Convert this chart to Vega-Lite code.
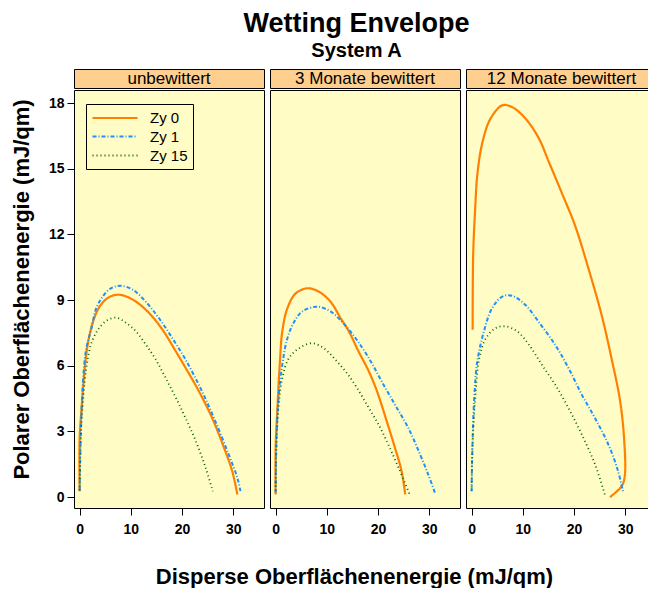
{
  "$schema": "https://vega.github.io/schema/vega-lite/v6.json",
  "background": "white",
  "padding": {"left": 9, "top": 9, "right": 0, "bottom": 0},
  "title": {
    "text": "Wetting Envelope",
    "subtitle": "System A",
    "font": "Liberation Sans",
    "fontSize": 27,
    "fontWeight": "bold",
    "color": "black",
    "subtitleFont": "Liberation Sans",
    "subtitleFontSize": 20,
    "subtitleFontWeight": "bold",
    "subtitleColor": "black",
    "subtitlePadding": 3,
    "anchor": "middle",
    "dx": 27,
    "offset": 7
  },
  "datasets": {
    "curves": [
      {"panel": "unbewittert", "series": "Zy 0", "order": 1, "x": 0, "y": 0.27},
      {"panel": "unbewittert", "series": "Zy 0", "order": 2, "x": 0, "y": 2.7},
      {"panel": "unbewittert", "series": "Zy 0", "order": 3, "x": 0.5, "y": 4.4},
      {"panel": "unbewittert", "series": "Zy 0", "order": 4, "x": 1.0, "y": 5.9},
      {"panel": "unbewittert", "series": "Zy 0", "order": 5, "x": 1.6, "y": 7.0},
      {"panel": "unbewittert", "series": "Zy 0", "order": 6, "x": 2.6, "y": 8.0},
      {"panel": "unbewittert", "series": "Zy 0", "order": 7, "x": 3.9, "y": 8.7},
      {"panel": "unbewittert", "series": "Zy 0", "order": 8, "x": 5.5, "y": 9.1},
      {"panel": "unbewittert", "series": "Zy 0", "order": 9, "x": 7.1, "y": 9.24},
      {"panel": "unbewittert", "series": "Zy 0", "order": 10, "x": 8.7, "y": 9.2},
      {"panel": "unbewittert", "series": "Zy 0", "order": 11, "x": 11.0, "y": 8.93},
      {"panel": "unbewittert", "series": "Zy 0", "order": 12, "x": 13.6, "y": 8.4},
      {"panel": "unbewittert", "series": "Zy 0", "order": 13, "x": 16.2, "y": 7.64},
      {"panel": "unbewittert", "series": "Zy 0", "order": 14, "x": 18.8, "y": 6.65},
      {"panel": "unbewittert", "series": "Zy 0", "order": 15, "x": 20.7, "y": 5.9},
      {"panel": "unbewittert", "series": "Zy 0", "order": 16, "x": 23.3, "y": 4.83},
      {"panel": "unbewittert", "series": "Zy 0", "order": 17, "x": 25.9, "y": 3.6},
      {"panel": "unbewittert", "series": "Zy 0", "order": 18, "x": 28.2, "y": 2.25},
      {"panel": "unbewittert", "series": "Zy 0", "order": 19, "x": 29.8, "y": 1.18},
      {"panel": "unbewittert", "series": "Zy 0", "order": 20, "x": 30.8, "y": 0.12},

      {"panel": "unbewittert", "series": "Zy 1", "order": 1, "x": 0, "y": 0.3},
      {"panel": "unbewittert", "series": "Zy 1", "order": 2, "x": 0.3, "y": 3.46},
      {"panel": "unbewittert", "series": "Zy 1", "order": 3, "x": 0.65, "y": 5.3},
      {"panel": "unbewittert", "series": "Zy 1", "order": 4, "x": 1.3, "y": 6.8},
      {"panel": "unbewittert", "series": "Zy 1", "order": 5, "x": 2.3, "y": 7.7},
      {"panel": "unbewittert", "series": "Zy 1", "order": 6, "x": 3.2, "y": 8.6},
      {"panel": "unbewittert", "series": "Zy 1", "order": 7, "x": 4.5, "y": 9.16},
      {"panel": "unbewittert", "series": "Zy 1", "order": 8, "x": 6.1, "y": 9.54},
      {"panel": "unbewittert", "series": "Zy 1", "order": 9, "x": 8.1, "y": 9.65},
      {"panel": "unbewittert", "series": "Zy 1", "order": 10, "x": 10.4, "y": 9.47},
      {"panel": "unbewittert", "series": "Zy 1", "order": 11, "x": 12.9, "y": 8.93},
      {"panel": "unbewittert", "series": "Zy 1", "order": 12, "x": 15.5, "y": 8.17},
      {"panel": "unbewittert", "series": "Zy 1", "order": 13, "x": 18.1, "y": 7.26},
      {"panel": "unbewittert", "series": "Zy 1", "order": 14, "x": 20.7, "y": 6.27},
      {"panel": "unbewittert", "series": "Zy 1", "order": 15, "x": 23.9, "y": 4.83},
      {"panel": "unbewittert", "series": "Zy 1", "order": 16, "x": 26.5, "y": 3.46},
      {"panel": "unbewittert", "series": "Zy 1", "order": 17, "x": 29.1, "y": 1.95},
      {"panel": "unbewittert", "series": "Zy 1", "order": 18, "x": 30.8, "y": 0.88},
      {"panel": "unbewittert", "series": "Zy 1", "order": 19, "x": 31.4, "y": 0.27},

      {"panel": "unbewittert", "series": "Zy 15", "order": 1, "x": 0, "y": 0.3},
      {"panel": "unbewittert", "series": "Zy 15", "order": 2, "x": 0.3, "y": 3.1},
      {"panel": "unbewittert", "series": "Zy 15", "order": 3, "x": 1.0, "y": 5.3},
      {"panel": "unbewittert", "series": "Zy 15", "order": 4, "x": 1.6, "y": 6.35},
      {"panel": "unbewittert", "series": "Zy 15", "order": 5, "x": 2.3, "y": 7.03},
      {"panel": "unbewittert", "series": "Zy 15", "order": 6, "x": 3.55, "y": 7.64},
      {"panel": "unbewittert", "series": "Zy 15", "order": 7, "x": 5.2, "y": 8.05},
      {"panel": "unbewittert", "series": "Zy 15", "order": 8, "x": 7.1, "y": 8.2},
      {"panel": "unbewittert", "series": "Zy 15", "order": 9, "x": 9.1, "y": 7.95},
      {"panel": "unbewittert", "series": "Zy 15", "order": 10, "x": 11.0, "y": 7.57},
      {"panel": "unbewittert", "series": "Zy 15", "order": 11, "x": 12.95, "y": 6.96},
      {"panel": "unbewittert", "series": "Zy 15", "order": 12, "x": 14.9, "y": 6.27},
      {"panel": "unbewittert", "series": "Zy 15", "order": 13, "x": 16.8, "y": 5.44},
      {"panel": "unbewittert", "series": "Zy 15", "order": 14, "x": 18.8, "y": 4.53},
      {"panel": "unbewittert", "series": "Zy 15", "order": 15, "x": 20.7, "y": 3.6},
      {"panel": "unbewittert", "series": "Zy 15", "order": 16, "x": 22.7, "y": 2.55},
      {"panel": "unbewittert", "series": "Zy 15", "order": 17, "x": 24.6, "y": 1.34},
      {"panel": "unbewittert", "series": "Zy 15", "order": 18, "x": 26.0, "y": 0.27},

      {"panel": "3 Monate bewittert", "series": "Zy 0", "order": 1, "x": 0, "y": 0.12},
      {"panel": "3 Monate bewittert", "series": "Zy 0", "order": 2, "x": 0, "y": 2.25},
      {"panel": "3 Monate bewittert", "series": "Zy 0", "order": 3, "x": 0.35, "y": 4.07},
      {"panel": "3 Monate bewittert", "series": "Zy 0", "order": 4, "x": 0.8, "y": 6.05},
      {"panel": "3 Monate bewittert", "series": "Zy 0", "order": 5, "x": 1.3, "y": 7.57},
      {"panel": "3 Monate bewittert", "series": "Zy 0", "order": 6, "x": 2.3, "y": 8.63},
      {"panel": "3 Monate bewittert", "series": "Zy 0", "order": 7, "x": 3.9, "y": 9.3},
      {"panel": "3 Monate bewittert", "series": "Zy 0", "order": 8, "x": 6.2, "y": 9.54},
      {"panel": "3 Monate bewittert", "series": "Zy 0", "order": 9, "x": 8.4, "y": 9.39},
      {"panel": "3 Monate bewittert", "series": "Zy 0", "order": 10, "x": 10.7, "y": 8.93},
      {"panel": "3 Monate bewittert", "series": "Zy 0", "order": 11, "x": 12.7, "y": 8.17},
      {"panel": "3 Monate bewittert", "series": "Zy 0", "order": 12, "x": 14.3, "y": 7.57},
      {"panel": "3 Monate bewittert", "series": "Zy 0", "order": 13, "x": 16.2, "y": 6.65},
      {"panel": "3 Monate bewittert", "series": "Zy 0", "order": 14, "x": 18.2, "y": 5.74},
      {"panel": "3 Monate bewittert", "series": "Zy 0", "order": 15, "x": 19.8, "y": 4.83},
      {"panel": "3 Monate bewittert", "series": "Zy 0", "order": 16, "x": 21.7, "y": 3.46},
      {"panel": "3 Monate bewittert", "series": "Zy 0", "order": 17, "x": 23.3, "y": 2.25},
      {"panel": "3 Monate bewittert", "series": "Zy 0", "order": 18, "x": 24.6, "y": 1.18},
      {"panel": "3 Monate bewittert", "series": "Zy 0", "order": 19, "x": 25.3, "y": 0.12},

      {"panel": "3 Monate bewittert", "series": "Zy 1", "order": 1, "x": 0, "y": 0.2},
      {"panel": "3 Monate bewittert", "series": "Zy 1", "order": 2, "x": 0.15, "y": 2.55},
      {"panel": "3 Monate bewittert", "series": "Zy 1", "order": 3, "x": 0.55, "y": 4.5},
      {"panel": "3 Monate bewittert", "series": "Zy 1", "order": 4, "x": 1.3, "y": 6.05},
      {"panel": "3 Monate bewittert", "series": "Zy 1", "order": 5, "x": 2.3, "y": 7.26},
      {"panel": "3 Monate bewittert", "series": "Zy 1", "order": 6, "x": 3.6, "y": 8.0},
      {"panel": "3 Monate bewittert", "series": "Zy 1", "order": 7, "x": 5.2, "y": 8.48},
      {"panel": "3 Monate bewittert", "series": "Zy 1", "order": 8, "x": 8.1, "y": 8.7},
      {"panel": "3 Monate bewittert", "series": "Zy 1", "order": 9, "x": 10.7, "y": 8.48},
      {"panel": "3 Monate bewittert", "series": "Zy 1", "order": 10, "x": 13.0, "y": 8.0},
      {"panel": "3 Monate bewittert", "series": "Zy 1", "order": 11, "x": 15.6, "y": 7.26},
      {"panel": "3 Monate bewittert", "series": "Zy 1", "order": 12, "x": 18.2, "y": 6.35},
      {"panel": "3 Monate bewittert", "series": "Zy 1", "order": 13, "x": 20.7, "y": 5.29},
      {"panel": "3 Monate bewittert", "series": "Zy 1", "order": 14, "x": 23.3, "y": 4.22},
      {"panel": "3 Monate bewittert", "series": "Zy 1", "order": 15, "x": 25.9, "y": 3.16},
      {"panel": "3 Monate bewittert", "series": "Zy 1", "order": 16, "x": 28.2, "y": 1.95},
      {"panel": "3 Monate bewittert", "series": "Zy 1", "order": 17, "x": 29.8, "y": 1.03},
      {"panel": "3 Monate bewittert", "series": "Zy 1", "order": 18, "x": 31.1, "y": 0.2},

      {"panel": "3 Monate bewittert", "series": "Zy 15", "order": 1, "x": 0, "y": 0.3},
      {"panel": "3 Monate bewittert", "series": "Zy 15", "order": 2, "x": 0.15, "y": 2.25},
      {"panel": "3 Monate bewittert", "series": "Zy 15", "order": 3, "x": 0.55, "y": 4.07},
      {"panel": "3 Monate bewittert", "series": "Zy 15", "order": 4, "x": 1.3, "y": 5.44},
      {"panel": "3 Monate bewittert", "series": "Zy 15", "order": 5, "x": 2.6, "y": 6.35},
      {"panel": "3 Monate bewittert", "series": "Zy 15", "order": 6, "x": 4.6, "y": 6.8},
      {"panel": "3 Monate bewittert", "series": "Zy 15", "order": 7, "x": 7.1, "y": 7.03},
      {"panel": "3 Monate bewittert", "series": "Zy 15", "order": 8, "x": 9.4, "y": 6.8},
      {"panel": "3 Monate bewittert", "series": "Zy 15", "order": 9, "x": 11.7, "y": 6.27},
      {"panel": "3 Monate bewittert", "series": "Zy 15", "order": 10, "x": 13.9, "y": 5.67},
      {"panel": "3 Monate bewittert", "series": "Zy 15", "order": 11, "x": 15.9, "y": 4.98},
      {"panel": "3 Monate bewittert", "series": "Zy 15", "order": 12, "x": 18.2, "y": 4.07},
      {"panel": "3 Monate bewittert", "series": "Zy 15", "order": 13, "x": 20.1, "y": 3.31},
      {"panel": "3 Monate bewittert", "series": "Zy 15", "order": 14, "x": 22.0, "y": 2.4},
      {"panel": "3 Monate bewittert", "series": "Zy 15", "order": 15, "x": 24.0, "y": 1.34},
      {"panel": "3 Monate bewittert", "series": "Zy 15", "order": 16, "x": 26.3, "y": 0.05},

      {"panel": "12 Monate bewittert", "series": "Zy 0", "order": 1, "x": 0.2, "y": 7.64},
      {"panel": "12 Monate bewittert", "series": "Zy 0", "order": 2, "x": 0.3, "y": 11.06},
      {"panel": "12 Monate bewittert", "series": "Zy 0", "order": 3, "x": 0.7, "y": 13.2},
      {"panel": "12 Monate bewittert", "series": "Zy 0", "order": 4, "x": 1.1, "y": 14.7},
      {"panel": "12 Monate bewittert", "series": "Zy 0", "order": 5, "x": 2.1, "y": 16.2},
      {"panel": "12 Monate bewittert", "series": "Zy 0", "order": 6, "x": 3.7, "y": 17.3},
      {"panel": "12 Monate bewittert", "series": "Zy 0", "order": 7, "x": 6.0, "y": 17.9},
      {"panel": "12 Monate bewittert", "series": "Zy 0", "order": 8, "x": 7.9, "y": 17.82},
      {"panel": "12 Monate bewittert", "series": "Zy 0", "order": 9, "x": 10.5, "y": 17.3},
      {"panel": "12 Monate bewittert", "series": "Zy 0", "order": 10, "x": 13.1, "y": 16.4},
      {"panel": "12 Monate bewittert", "series": "Zy 0", "order": 11, "x": 15.1, "y": 15.3},
      {"panel": "12 Monate bewittert", "series": "Zy 0", "order": 12, "x": 17.6, "y": 13.9},
      {"panel": "12 Monate bewittert", "series": "Zy 0", "order": 13, "x": 20.2, "y": 12.4},
      {"panel": "12 Monate bewittert", "series": "Zy 0", "order": 14, "x": 22.8, "y": 10.45},
      {"panel": "12 Monate bewittert", "series": "Zy 0", "order": 15, "x": 25.4, "y": 8.3},
      {"panel": "12 Monate bewittert", "series": "Zy 0", "order": 16, "x": 27.3, "y": 6.35},
      {"panel": "12 Monate bewittert", "series": "Zy 0", "order": 17, "x": 29.0, "y": 4.37},
      {"panel": "12 Monate bewittert", "series": "Zy 0", "order": 18, "x": 29.8, "y": 2.55},
      {"panel": "12 Monate bewittert", "series": "Zy 0", "order": 19, "x": 29.9, "y": 0.96},
      {"panel": "12 Monate bewittert", "series": "Zy 0", "order": 20, "x": 29.3, "y": 0.5},
      {"panel": "12 Monate bewittert", "series": "Zy 0", "order": 21, "x": 27.0, "y": 0.0},

      {"panel": "12 Monate bewittert", "series": "Zy 1", "order": 1, "x": 0, "y": 0.27},
      {"panel": "12 Monate bewittert", "series": "Zy 1", "order": 2, "x": 0.15, "y": 2.25},
      {"panel": "12 Monate bewittert", "series": "Zy 1", "order": 3, "x": 0.5, "y": 4.5},
      {"panel": "12 Monate bewittert", "series": "Zy 1", "order": 4, "x": 1.1, "y": 6.2},
      {"panel": "12 Monate bewittert", "series": "Zy 1", "order": 5, "x": 2.4, "y": 7.57},
      {"panel": "12 Monate bewittert", "series": "Zy 1", "order": 6, "x": 4.0, "y": 8.63},
      {"panel": "12 Monate bewittert", "series": "Zy 1", "order": 7, "x": 6.0, "y": 9.16},
      {"panel": "12 Monate bewittert", "series": "Zy 1", "order": 8, "x": 7.9, "y": 9.2},
      {"panel": "12 Monate bewittert", "series": "Zy 1", "order": 9, "x": 10.5, "y": 8.78},
      {"panel": "12 Monate bewittert", "series": "Zy 1", "order": 10, "x": 13.1, "y": 8.0},
      {"panel": "12 Monate bewittert", "series": "Zy 1", "order": 11, "x": 16.3, "y": 6.96},
      {"panel": "12 Monate bewittert", "series": "Zy 1", "order": 12, "x": 18.9, "y": 5.9},
      {"panel": "12 Monate bewittert", "series": "Zy 1", "order": 13, "x": 21.5, "y": 4.68},
      {"panel": "12 Monate bewittert", "series": "Zy 1", "order": 14, "x": 24.1, "y": 3.6},
      {"panel": "12 Monate bewittert", "series": "Zy 1", "order": 15, "x": 26.7, "y": 2.4},
      {"panel": "12 Monate bewittert", "series": "Zy 1", "order": 16, "x": 28.6, "y": 1.18},
      {"panel": "12 Monate bewittert", "series": "Zy 1", "order": 17, "x": 29.6, "y": 0.2},

      {"panel": "12 Monate bewittert", "series": "Zy 15", "order": 1, "x": 0, "y": 0.3},
      {"panel": "12 Monate bewittert", "series": "Zy 15", "order": 2, "x": 0.15, "y": 2.25},
      {"panel": "12 Monate bewittert", "series": "Zy 15", "order": 3, "x": 0.7, "y": 4.5},
      {"panel": "12 Monate bewittert", "series": "Zy 15", "order": 4, "x": 1.5, "y": 6.35},
      {"panel": "12 Monate bewittert", "series": "Zy 15", "order": 5, "x": 2.8, "y": 7.26},
      {"panel": "12 Monate bewittert", "series": "Zy 15", "order": 6, "x": 4.7, "y": 7.72},
      {"panel": "12 Monate bewittert", "series": "Zy 15", "order": 7, "x": 6.6, "y": 7.8},
      {"panel": "12 Monate bewittert", "series": "Zy 15", "order": 8, "x": 8.9, "y": 7.57},
      {"panel": "12 Monate bewittert", "series": "Zy 15", "order": 9, "x": 11.2, "y": 6.96},
      {"panel": "12 Monate bewittert", "series": "Zy 15", "order": 10, "x": 13.7, "y": 6.05},
      {"panel": "12 Monate bewittert", "series": "Zy 15", "order": 11, "x": 16.3, "y": 5.14},
      {"panel": "12 Monate bewittert", "series": "Zy 15", "order": 12, "x": 18.9, "y": 4.07},
      {"panel": "12 Monate bewittert", "series": "Zy 15", "order": 13, "x": 21.5, "y": 2.86},
      {"panel": "12 Monate bewittert", "series": "Zy 15", "order": 14, "x": 24.1, "y": 1.49},
      {"panel": "12 Monate bewittert", "series": "Zy 15", "order": 15, "x": 26.1, "y": 0.05}
    ]
  },
  "config": {
    "font": "Liberation Sans",
    "axis": {
      "domain": false,
      "grid": false,
      "ticks": true,
      "tickColor": "black",
      "tickSize": 7,
      "tickWidth": 1,
      "labelFont": "Liberation Sans",
      "labelFontSize": 14,
      "labelFontWeight": "bold",
      "labelColor": "black",
      "labelFlush": false,
      "labelOverlap": false,
      "titleFont": "Liberation Sans",
      "titleFontSize": 22,
      "titleFontWeight": "bold",
      "titleColor": "black"
    },
    "legend": {
      "strokeColor": "black",
      "padding": 5,
      "labelFont": "Liberation Sans",
      "labelFontSize": 15,
      "labelColor": "black",
      "symbolSize": 225,
      "symbolType": "M-3,0H3",
      "symbolOffset": 15,
      "labelOffset": 26,
      "rowPadding": 2
    }
  },
  "spacing": 0,
  "vconcat": [
    {
      "spacing": 6,
      "bounds": "flush",
      "hconcat": [
        {
          "width": 190, "height": 19,
          "data": {"values": [{"label": "unbewittert"}]},
          "mark": {"type": "text", "font": "Liberation Sans", "fontSize": 17, "color": "black"},
          "encoding": {"text": {"field": "label", "type": "nominal"}},
          "view": {"fill": "#FFCF8F", "stroke": "black"}
        },
        {
          "width": 190, "height": 19,
          "data": {"values": [{"label": "3 Monate bewittert"}]},
          "mark": {"type": "text", "font": "Liberation Sans", "fontSize": 17, "color": "black"},
          "encoding": {"text": {"field": "label", "type": "nominal"}},
          "view": {"fill": "#FFCF8F", "stroke": "black"}
        },
        {
          "width": 183, "height": 19,
          "data": {"values": [{"label": "12 Monate bewittert"}]},
          "mark": {"type": "text", "font": "Liberation Sans", "fontSize": 17, "color": "black", "dx": 4},
          "encoding": {"text": {"field": "label", "type": "nominal"}},
          "view": {"fill": "#FFCF8F", "stroke": "black"}
        }
      ]
    },
    {
      "spacing": 6,
      "bounds": "flush",
      "hconcat": [
        {
          "width": 190, "height": 418,
          "data": {"name": "curves"},
          "transform": [{"filter": "datum.panel === 'unbewittert'"}],
          "mark": {"type": "line", "interpolate": "catmull-rom"},
          "encoding": {
            "x": {"field": "x", "type": "quantitative", "scale": {"domain": [-1.1, 36], "nice": false, "zero": false},
                  "axis": {"values": [0, 10, 20, 30], "title": null, "labelPadding": 7}},
            "y": {"field": "y", "type": "quantitative", "scale": {"domain": [-0.5, 18.6], "nice": false, "zero": false},
                  "axis": {"values": [0, 3, 6, 9, 12, 15, 18], "labelPadding": 3,
                           "title": "Polarer Oberflächenenergie (mJ/qm)",
                           "titleX": -53, "titleY": 199, "titleAngle": 270, "titleBaseline": "middle", "titleAlign": "center"}},
            "order": {"field": "order", "type": "quantitative"},
            "color": {"field": "series", "type": "nominal",
                      "scale": {"domain": ["Zy 0", "Zy 1", "Zy 15"], "range": ["#FF8000", "#1E90FF", "#006400"]},
                      "legend": {"title": null, "orient": "none", "legendX": 12, "legendY": 35}},
            "strokeDash": {"field": "series", "type": "nominal",
                           "scale": {"domain": ["Zy 0", "Zy 1", "Zy 15"], "range": [[1, 0], [4, 2, 1, 2], [1, 3]]},
                           "legend": {"title": null, "orient": "none", "legendX": 12, "legendY": 35}},
            "strokeWidth": {"field": "series", "type": "nominal",
                            "scale": {"domain": ["Zy 0", "Zy 1", "Zy 15"], "range": [2.2, 1.8, 1.5]},
                            "legend": {"title": null, "orient": "none", "legendX": 12, "legendY": 35}}
          },
          "view": {"fill": "#FFFDC5", "stroke": "black"}
        },
        {
          "width": 190, "height": 418,
          "data": {"name": "curves"},
          "transform": [{"filter": "datum.panel === '3 Monate bewittert'"}],
          "mark": {"type": "line", "interpolate": "catmull-rom"},
          "encoding": {
            "x": {"field": "x", "type": "quantitative", "scale": {"domain": [-1.1, 36], "nice": false, "zero": false},
                  "axis": {"values": [0, 10, 20, 30], "labelPadding": 7,
                           "title": "Disperse Oberflächenenergie (mJ/qm)",
                           "titleX": 84, "titleY": 68, "titleBaseline": "middle", "titleAlign": "center"}},
            "y": {"field": "y", "type": "quantitative", "scale": {"domain": [-0.5, 18.6], "nice": false, "zero": false}, "axis": null},
            "order": {"field": "order", "type": "quantitative"},
            "color": {"field": "series", "type": "nominal", "scale": {"domain": ["Zy 0", "Zy 1", "Zy 15"], "range": ["#FF8000", "#1E90FF", "#006400"]}, "legend": null},
            "strokeDash": {"field": "series", "type": "nominal", "scale": {"domain": ["Zy 0", "Zy 1", "Zy 15"], "range": [[1, 0], [4, 2, 1, 2], [1, 3]]}, "legend": null},
            "strokeWidth": {"field": "series", "type": "nominal", "scale": {"domain": ["Zy 0", "Zy 1", "Zy 15"], "range": [2.2, 1.8, 1.5]}, "legend": null}
          },
          "view": {"fill": "#FFFDC5", "stroke": "black"}
        },
        {
          "width": 183, "height": 418,
          "data": {"name": "curves"},
          "transform": [{"filter": "datum.panel === '12 Monate bewittert'"}],
          "mark": {"type": "line", "interpolate": "catmull-rom"},
          "encoding": {
            "x": {"field": "x", "type": "quantitative", "scale": {"domain": [-1.1, 34.63], "nice": false, "zero": false},
                  "axis": {"values": [0, 10, 20, 30], "title": null, "labelPadding": 7}},
            "y": {"field": "y", "type": "quantitative", "scale": {"domain": [-0.5, 18.6], "nice": false, "zero": false}, "axis": null},
            "order": {"field": "order", "type": "quantitative"},
            "color": {"field": "series", "type": "nominal", "scale": {"domain": ["Zy 0", "Zy 1", "Zy 15"], "range": ["#FF8000", "#1E90FF", "#006400"]}, "legend": null},
            "strokeDash": {"field": "series", "type": "nominal", "scale": {"domain": ["Zy 0", "Zy 1", "Zy 15"], "range": [[1, 0], [4, 2, 1, 2], [1, 3]]}, "legend": null},
            "strokeWidth": {"field": "series", "type": "nominal", "scale": {"domain": ["Zy 0", "Zy 1", "Zy 15"], "range": [2.2, 1.8, 1.5]}, "legend": null}
          },
          "view": {"fill": "#FFFDC5", "stroke": "black"}
        }
      ],
      "resolve": {"scale": {"x": "independent"}}
    }
  ]
}
